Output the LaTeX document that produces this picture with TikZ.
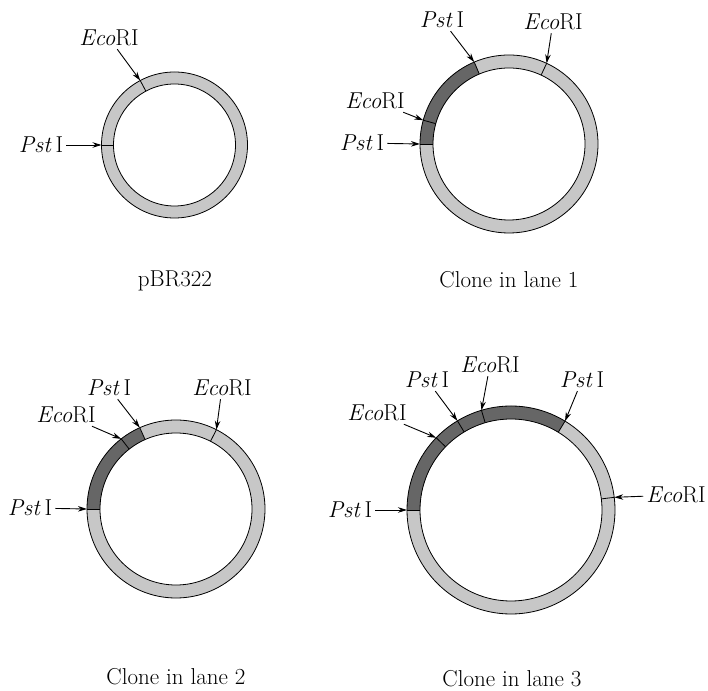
\documentclass[tikz,border=0pt]{standalone}
\usepackage{tikz}
\usetikzlibrary{arrows.meta,calc}
\newcommand{\Eco}{\textit{Eco}RI}
\newcommand{\Pst}{\textit{Pst}\,I}

\begin{document}
\begin{tikzpicture}[x=1pt,y=1pt,
  site/.style={font=\fontsize{23}{27}\selectfont, inner sep=3pt},
  caption/.style={font=\fontsize{23}{27}\selectfont},
  cut/.style={-{Stealth[length=9pt,width=5.5pt]}, line width=0.9pt},
  rim/.style={line width=0.8pt},
  vector/.style={fill=black!22, even odd rule},
  insert/.style={fill=black!60}]
  \useasboundingbox (0,0) rectangle (708,690);

  % pBR322
  \coordinate (cA) at (174.5,545);
  \fill[vector] (cA) circle[radius=73] (cA) circle[radius=61];
  \draw[rim] (cA) circle[radius=73] (cA) circle[radius=61];
  \foreach \a/\n in {118/eco,180/pst} {
    \draw[rim] ($(cA)+(\a:61)$) -- ($(cA)+(\a:73)$);
    \coordinate (A-\n) at ($(cA)+(\a:73)$);
  }
  \node[site] (A-ecoL) at (109,652) {\Eco};
  \node[site] (A-pstL) at (41,545) {\Pst};
  \draw[cut] (A-ecoL) -- (A-eco);
  \draw[cut] (A-pstL) -- (A-pst);
  \node[caption] (A-cap) at (175,409) {pBR322};

  % clone in lane 1
  \coordinate (cB) at (509,546);
  \fill[vector] (cB) circle[radius=89] (cB) circle[radius=76];
  \fill[insert] ($(cB)+(113:89)$) arc[start angle=113,end angle=180,radius=89]
    -- ($(cB)+(180:76)$) arc[start angle=180,end angle=113,radius=76] -- cycle;
  \draw[rim] (cB) circle[radius=89] (cB) circle[radius=76];
  \foreach \a/\n in {113/pstA,65/ecoA,164.5/ecoB,180/pstB} {
    \draw[rim] ($(cB)+(\a:76)$) -- ($(cB)+(\a:89)$);
    \coordinate (B-\n) at ($(cB)+(\a:89)$);
  }
  \node[site] (B-pstLA) at (442,670) {\Pst};
  \node[site] (B-ecoLA) at (553,668) {\Eco};
  \node[site] (B-ecoLB) at (375,589) {\Eco};
  \node[site] (B-pstLB) at (362,547) {\Pst};
  \draw[cut] (B-pstLA) -- (B-pstA);
  \draw[cut] (B-ecoLA) -- (B-ecoA);
  \draw[cut] (B-ecoLB) -- (B-ecoB);
  \draw[cut] (B-pstLB) -- (B-pstB);
  \node[caption] (B-cap) at (509,410) {Clone in lane 1};

  % clone in lane 2
  \coordinate (cC) at (176,181);
  \fill[vector] (cC) circle[radius=89] (cC) circle[radius=76];
  \fill[insert] ($(cC)+(114:89)$) arc[start angle=114,end angle=180,radius=89]
    -- ($(cC)+(180:76)$) arc[start angle=180,end angle=114,radius=76] -- cycle;
  \draw[rim] (cC) circle[radius=89] (cC) circle[radius=76];
  \foreach \a/\n in {114/pstA,128/ecoA,63/ecoB,180/pstB} {
    \draw[rim] ($(cC)+(\a:76)$) -- ($(cC)+(\a:89)$);
    \coordinate (C-\n) at ($(cC)+(\a:89)$);
  }
  \node[site] (C-pstLA) at (109,302) {\Pst};
  \node[site] (C-ecoLA) at (66,275) {\Eco};
  \node[site] (C-ecoLB) at (222,302) {\Eco};
  \node[site] (C-pstLB) at (30,182) {\Pst};
  \draw[cut] (C-pstLA) -- (C-pstA);
  \draw[cut] (C-ecoLA) -- (C-ecoA);
  \draw[cut] (C-ecoLB) -- (C-ecoB);
  \draw[cut] (C-pstLB) -- (C-pstB);
  \node[caption] (C-cap) at (176,13) {Clone in lane 2};

  % clone in lane 3
  \coordinate (cD) at (511,180);
  \fill[vector] (cD) circle[radius=104] (cD) circle[radius=91];
  \fill[insert] ($(cD)+(58.7:104)$) arc[start angle=58.7,end angle=180,radius=104]
    -- ($(cD)+(180:91)$) arc[start angle=180,end angle=58.7,radius=91] -- cycle;
  \draw[rim] (cD) circle[radius=104] (cD) circle[radius=91];
  \foreach \a/\n in {106.5/ecoA,121/pstA,136/ecoB,58.7/pstB,7/ecoC,180/pstC} {
    \draw[rim] ($(cD)+(\a:91)$) -- ($(cD)+(\a:104)$);
    \coordinate (D-\n) at ($(cD)+(\a:104)$);
  }
  \node[site] (D-ecoLA) at (490,325) {\Eco};
  \node[site] (D-pstLA) at (427,310) {\Pst};
  \node[site] (D-ecoLB) at (377,277) {\Eco};
  \node[site] (D-pstLB) at (582,310) {\Pst};
  \node[site] (D-ecoLC) at (676,195) {\Eco};
  \node[site] (D-pstLC) at (350,180) {\Pst};
  \draw[cut] (D-ecoLA) -- (D-ecoA);
  \draw[cut] (D-pstLA) -- (D-pstA);
  \draw[cut] (D-ecoLB) -- (D-ecoB);
  \draw[cut] (D-pstLB) -- (D-pstB);
  \draw[cut] (D-ecoLC) -- (D-ecoC);
  \draw[cut] (D-pstLC) -- (D-pstC);
  \node[caption] (D-cap) at (512,11) {Clone in lane 3};
\end{tikzpicture}
\end{document}
